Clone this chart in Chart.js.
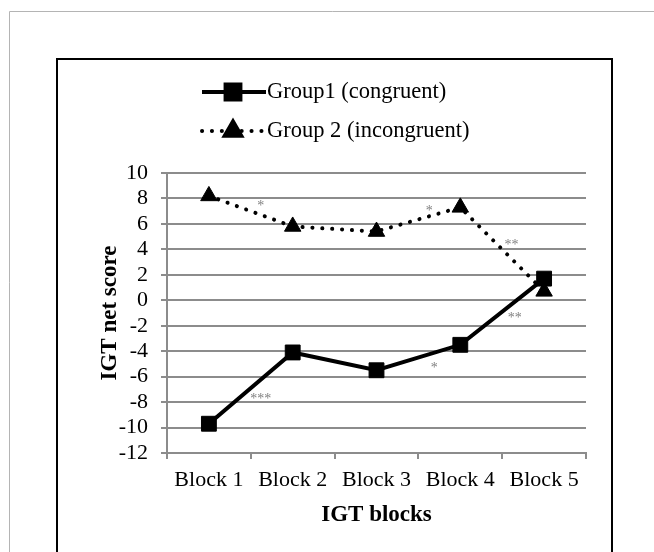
<!DOCTYPE html>
<html>
<head>
<meta charset="utf-8">
<script src="https://cdn.jsdelivr.net/npm/chart.js@4"></script>
<style>
  html, body { margin: 0; padding: 0; background: #fff; }
  canvas { display: block; }
</style>
</head>
<body>
<canvas id="igtChart" width="654" height="552"></canvas>
<script>
// Data
const blocks = ['Block 1', 'Block 2', 'Block 3', 'Block 4', 'Block 5'];
const group1Scores = [-9.7, -4.1, -5.5, -3.5, 1.7];
const group2Scores = [8.2, 5.8, 5.4, 7.3, 0.7];
const seriesNames = ['Group1 (congruent)', 'Group 2 (incongruent)'];

// Significance marks: label, position between blocks (category index), value
const sigLabels = ['*', '*', '**', '***', '*', '**'];
const sigIndex = [0.62, 2.63, 3.61, 0.62, 2.69, 3.65];
const sigValue = [7.65, 7.25, 4.56, -7.54, -5.13, -1.18];

const yMin = -12;
const yMax = 10;
const yStep = 2;

const SERIF = "'Liberation Serif', 'Times New Roman', serif";
const GRID = '#8c8c8c';

// frames behind the chart (outer gray panel + black figure box)
const framePlugin = {
    id: 'frames',
    beforeDraw(chart) {
        const ctx = chart.ctx;
        ctx.save();
        ctx.strokeStyle = '#b4b4b4';
        ctx.lineWidth = 1;
        ctx.beginPath();
        ctx.moveTo(9.5, chart.height + 2);
        ctx.lineTo(9.5, 11.5);
        ctx.lineTo(chart.width + 2, 11.5);
        ctx.stroke();

        ctx.strokeStyle = '#000';
        ctx.lineWidth = 2;
        ctx.strokeRect(57, 59, 555, chart.height);
        ctx.restore();
    }
};

// legend drawn Excel style: line sample with marker in the middle
const legendPlugin = {
    id: 'excelLegend',
    afterDraw(chart) {
        const ctx = chart.ctx;
        const rows = [
            { y: 92, x1: 202, x2: 266, text: seriesNames[0] },
            { y: 131, x1: 202, x2: 262, text: seriesNames[1] }
        ];
        ctx.save();
        chart.data.datasets.forEach((ds, i) => {
            const r = rows[i];
            ctx.strokeStyle = '#000';
            ctx.lineWidth = ds.borderWidth;
            ctx.lineCap = ds.borderCapStyle || 'butt';
            ctx.setLineDash(ds.borderDash || []);
            ctx.beginPath();
            ctx.moveTo(r.x1, r.y);
            ctx.lineTo(r.x2, r.y);
            ctx.stroke();
            ctx.setLineDash([]);
            Chart.helpers.drawPoint(ctx, {
                pointStyle: ds.pointStyle,
                radius: ds.pointRadius,
                borderWidth: 1
            }, 233, r.y);
            ctx.fillStyle = '#000';
            ctx.fill();
            ctx.font = '22.5px ' + SERIF;
            ctx.textBaseline = 'middle';
            ctx.textAlign = 'left';
            ctx.fillText(r.text, 267, r.y);
        });
        ctx.restore();
    }
};

// gray asterisks placed through the chart scales
const sigPlugin = {
    id: 'sigMarks',
    afterDatasetsDraw(chart) {
        const ctx = chart.ctx;
        const xs = chart.scales.x, ys = chart.scales.y;
        ctx.save();
        ctx.fillStyle = '#808080';
        ctx.font = '14px ' + SERIF;
        ctx.textAlign = 'center';
        ctx.textBaseline = 'middle';
        sigLabels.forEach((lab, i) => {
            const px = xs.getPixelForValue(sigIndex[i]);
            const py = ys.getPixelForValue(sigValue[i]) + 3;
            ctx.fillText(lab, px, py);
        });
        ctx.restore();
    }
};

new Chart(document.getElementById('igtChart'), {
    type: 'line',
    data: {
        labels: blocks,
        datasets: [
            {
                label: seriesNames[0],
                data: group1Scores,
                borderColor: '#000',
                backgroundColor: '#000',
                borderWidth: 4,
                pointStyle: 'rect',
                pointRadius: 10.5,
                pointBorderWidth: 1,
                pointBackgroundColor: '#000',
                pointBorderColor: '#000',
                tension: 0
            },
            {
                label: seriesNames[1],
                data: group2Scores,
                borderColor: '#000',
                backgroundColor: '#000',
                borderWidth: 4,
                borderDash: [0.1, 9.8],
                borderCapStyle: 'round',
                pointStyle: 'triangle',
                pointRadius: 9.5,
                pointBorderWidth: 1,
                pointBackgroundColor: '#000',
                pointBorderColor: '#000',
                tension: 0
            }
        ]
    },
    options: {
        responsive: false,
        animation: false,
        devicePixelRatio: 1,
        layout: {
            padding: { left: 85, right: 68, top: 173, bottom: 19 }
        },
        plugins: {
            legend: { display: false },
            title: { display: false },
            tooltip: { enabled: false }
        },
        scales: {
            x: {
                offset: true,
                afterFit(scale) { scale.height = 80; },
                grid: {
                    display: true,
                    offset: true,
                    drawOnChartArea: false,
                    drawTicks: true,
                    tickLength: 6,
                    color: GRID,
                    lineWidth: 2
                },
                border: { color: GRID, width: 2 },
                ticks: {
                    color: '#000',
                    padding: 8,
                    maxRotation: 0,
                    autoSkip: false,
                    font: { family: SERIF, size: 22 }
                },
                title: {
                    display: true,
                    text: 'IGT blocks',
                    color: '#000',
                    padding: { top: 0, bottom: 4 },
                    font: { family: SERIF, size: 23, weight: 'bold' }
                }
            },
            y: {
                min: yMin,
                max: yMax,
                afterFit(scale) { scale.width = 82; },
                grid: {
                    color: GRID,
                    lineWidth: 2,
                    drawTicks: true,
                    tickLength: 6
                },
                border: { color: GRID, width: 2 },
                ticks: {
                    stepSize: yStep,
                    autoSkip: false,
                    color: '#000',
                    padding: 13,
                    font: { family: SERIF, size: 22 }
                },
                title: {
                    display: true,
                    text: 'IGT net score',
                    color: '#000',
                    padding: { top: 11, bottom: 0 },
                    font: { family: SERIF, size: 23, weight: 'bold' }
                }
            }
        }
    },
    plugins: [framePlugin, legendPlugin, sigPlugin]
});
</script>
</body>
</html>
